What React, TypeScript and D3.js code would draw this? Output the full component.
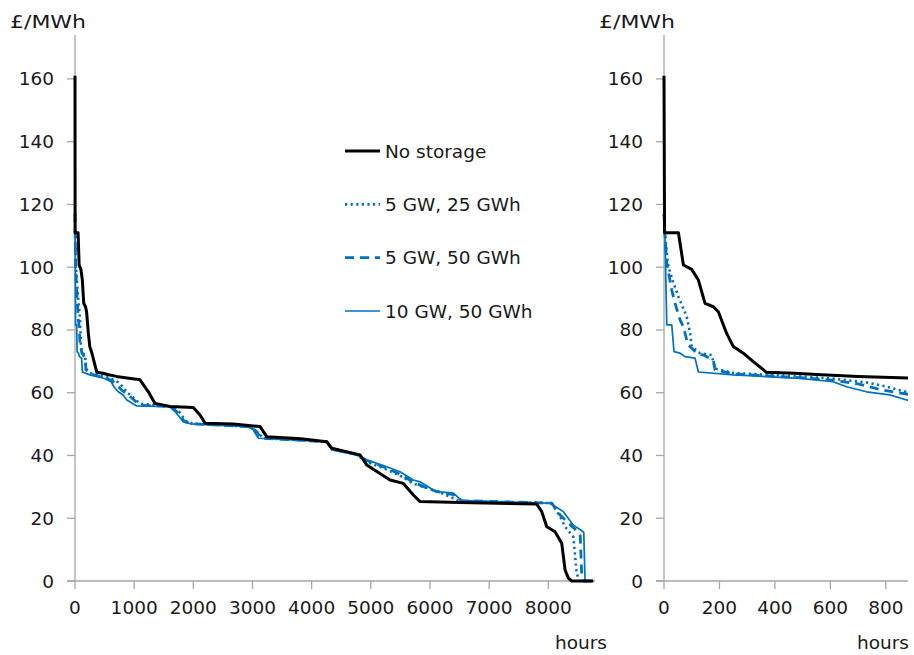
import React from "react";
import * as d3 from "d3";

// ---- Data: price duration curves, [hour, £/MWh] ----
const noStorage: [number, number][] = [
  [0, 161], [2, 111], [52, 111], [70, 100.7], [100, 99.3], [124, 95.9], [148, 88.5],
  [178, 87.4], [196, 85.8], [226, 78.9], [250, 74.7], [286, 72.6], [322, 69.9], [370, 66.5],
  [470, 66.2], [550, 65.8], [700, 65.2], [880, 64.7], [1099, 64.1], [1240, 60.3], [1352, 56.6],
  [1606, 55.6], [2000, 55.3], [2113, 52.9], [2198, 50.3], [2676, 50.0], [3128, 49.2], [3241, 46],
  [3820, 45.3], [4255, 44.4], [4340, 42.3], [4818, 40.2], [4931, 37], [5325, 32.2], [5551, 31.1],
  [5719, 27.4], [5833, 25.3], [6500, 25.0], [7806, 24.5], [7890, 22.1], [7975, 17.3], [8115, 15.7],
  [8228, 12], [8284, 3.5], [8340, 0.9], [8397, 0], [8760, 0],
];

const gw5gwh25: [number, number][] = [
  [0, 117], [3, 111], [14, 101], [30, 96], [52, 90.6], [82, 84.2], [94, 79], [100, 74.7],
  [130, 72.6], [172, 72], [184, 67.7], [250, 66.3], [490, 65.2], [610, 64.5], [730, 63.3],
  [800, 62], [880, 60.1], [930, 59.3], [1100, 56.5], [1606, 55.6], [1760, 54], [1870, 51],
  [2000, 50.1], [2950, 49.2], [3080, 47.5], [3180, 45.5], [4255, 44.4], [4340, 42.1], [4762, 40.3],
  [4931, 38], [5270, 35.5], [5494, 33.6], [5719, 31], [5945, 29.7], [6200, 28], [6340, 26.8],
  [6500, 25.5], [8060, 24.8], [8200, 20.5], [8284, 17.3], [8425, 14], [8481, 2.4], [8530, 0],
  [8760, 0],
];

const gw5gwh50: [number, number][] = [
  [0, 117], [3, 111], [10, 101.3], [28, 92.7], [40, 88.5], [58, 83.2], [70, 81], [82, 76.8],
  [88, 75.2], [118, 72.6], [142, 72], [178, 70.4], [184, 67.3], [250, 66], [490, 64.8],
  [610, 64], [700, 62.8], [780, 61], [880, 59.5], [950, 58.5], [1100, 56], [1606, 55.6],
  [1720, 54], [1850, 50.8], [1980, 50.1], [2950, 49.2], [3050, 48], [3150, 45.5], [4255, 44.4],
  [4340, 42], [4762, 40.3], [4931, 38.4], [5270, 36], [5494, 34], [5719, 31.5], [5900, 30],
  [6100, 28.6], [6400, 27.5], [6537, 25.6], [8060, 24.8], [8200, 21], [8481, 16], [8540, 14.5],
  [8566, 2], [8590, 0], [8760, 0],
];

const gw10gwh50: [number, number][] = [
  [0, 117], [3, 112], [10, 81.6], [28, 81.6], [36, 73.1], [58, 72.6], [76, 71.5], [112, 71],
  [124, 66.6], [250, 65.7], [490, 64.6], [610, 63.5], [658, 61.9], [730, 60.3], [814, 59.3],
  [875, 57.7], [1043, 55.8], [1606, 55.6], [1691, 54], [1831, 50.8], [1950, 50.1], [2902, 49.2],
  [3000, 48.5], [3100, 45.5], [4255, 44.4], [4340, 41.8], [4762, 40.2], [4931, 38.6], [5270, 36.4],
  [5494, 34.8], [5719, 32.2], [5833, 31.6], [6058, 29], [6171, 28.4], [6396, 28], [6537, 25.6],
  [8031, 24.8], [8256, 22.1], [8425, 17.8], [8566, 16], [8600, 15.5], [8622, 0], [8760, 0],
];

const seriesNames = ["No storage", "5 GW, 25 GWh", "5 GW, 50 GWh", "10 GW, 50 GWh"];
const yTicks = [0, 20, 40, 60, 80, 100, 120, 140, 160];
const xTicksLeft = [0, 1000, 2000, 3000, 4000, 5000, 6000, 7000, 8000];
const xTicksRight = [0, 200, 400, 600, 800];
const unitLabel = "£/MWh";
const xLabel = "hours";

const BLUE = "#0070C0";
const AXIS = "#A6A6A6";
const FONT = "'DejaVu Sans', sans-serif";
const TXT = "#1a1a1a";
const FS = 18.5;

const styles = [
  { data: noStorage, stroke: "#000", width: 3, dash: undefined as string | undefined },
  { data: gw5gwh25, stroke: BLUE, width: 2.6, dash: "2.2 3.4" },
  { data: gw5gwh50, stroke: BLUE, width: 2.8, dash: "9 6" },
  { data: gw10gwh50, stroke: BLUE, width: 1.7, dash: undefined },
];

const y = d3.scaleLinear().domain([0, 174]).range([581, 35]);

function Panel({ id, x, ticks, labelEnd }: {
  id: string; x: d3.ScaleLinear<number, number>; ticks: number[]; labelEnd: number;
}) {
  const [x0, x1] = x.range();
  const line = d3
    .line<[number, number]>()
    .x((d) => x(d[0]))
    .y((d) => y(d[1]))
    .curve(d3.curveLinear);
  return (
    <g>
      <defs>
        <clipPath id={id}>
          <rect x={x0 - 3} y={20} width={x1 - x0 + 3} height={570} />
        </clipPath>
      </defs>
      <line x1={x0} x2={x0} y1={y.range()[1]} y2={y(0)} stroke={AXIS} strokeWidth={1.3} />
      <line x1={x0 - 8} x2={x1} y1={y(0)} y2={y(0)} stroke={AXIS} strokeWidth={1.3} />
      {yTicks.map((t) => (
        <g key={"y" + t}>
          <line x1={x0 - 8} x2={x0} y1={y(t)} y2={y(t)} stroke={AXIS} strokeWidth={1.3} />
          <text x={x0 - 21} y={y(t)} textAnchor="end" dominantBaseline="central"
            fontFamily={FONT} fontSize={FS} fill={TXT}>{t}</text>
        </g>
      ))}
      {ticks.map((t) => (
        <g key={"x" + t}>
          <line x1={x(t)} x2={x(t)} y1={y(0)} y2={y(0) + 8} stroke={AXIS} strokeWidth={1.3} />
          <text x={x(t)} y={607} textAnchor="middle" dominantBaseline="central"
            fontFamily={FONT} fontSize={FS} fill={TXT}>{t}</text>
        </g>
      ))}
      <text x={labelEnd} y={642} textAnchor="end" dominantBaseline="central"
        fontFamily={FONT} fontSize={FS} fill={TXT}>{xLabel}</text>
      <text x={x0 - 65} y={21} textAnchor="start" dominantBaseline="central"
        fontFamily={FONT} fontSize={FS} fill={TXT} textLength={76}
        lengthAdjust="spacingAndGlyphs">{unitLabel}</text>
      <g clipPath={`url(#${id})`}>
        {[...styles].reverse().map((s, i) => (
          <path key={i} d={line(s.data) || ""} fill="none" stroke={s.stroke}
            strokeWidth={s.width} strokeDasharray={s.dash} strokeLinejoin="round" />
        ))}
      </g>
    </g>
  );
}

export default function App() {
  const xLeft = d3.scaleLinear().domain([0, 8790]).range([75, 595]);
  const xRight = d3.scaleLinear().domain([0, 880]).range([664, 908]);
  const legendY = d3.scalePoint<string>().domain(seriesNames).range([151, 311]);
  return (
    <svg width={914} height={655} style={{ position: "absolute", left: 0, top: 0, background: "#fff" }}>
      <rect width={914} height={655} fill="#fff" />
      <Panel id="clipL" x={xLeft} ticks={xTicksLeft} labelEnd={607} />
      <Panel id="clipR" x={xRight} ticks={xTicksRight} labelEnd={909} />
      {seriesNames.map((n, i) => (
        <g key={n}>
          <line x1={345} x2={380} y1={legendY(n)} y2={legendY(n)} stroke={styles[i].stroke}
            strokeWidth={styles[i].width} strokeDasharray={styles[i].dash} />
          <text x={385} y={legendY(n)} dominantBaseline="central" fontFamily={FONT}
            fontSize={FS} fill={TXT}>{n}</text>
        </g>
      ))}
    </svg>
  );
}
